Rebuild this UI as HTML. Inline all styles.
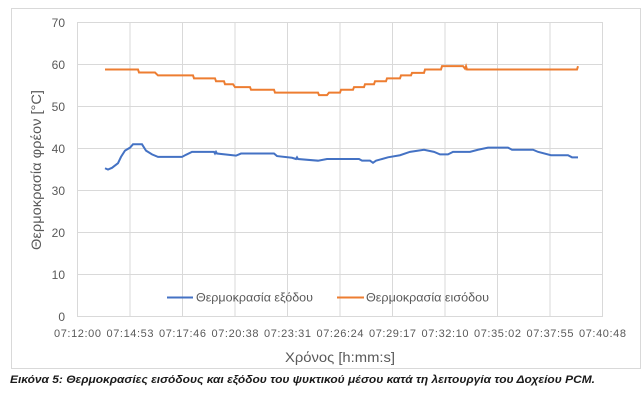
<!DOCTYPE html>
<html><head><meta charset="utf-8"><style>
html,body{margin:0;padding:0;background:#fff;}
body{width:644px;height:405px;overflow:hidden;position:relative;font-family:"Liberation Sans","DejaVu Sans",sans-serif;}
</style></head><body>
<svg width="644" height="405" xmlns="http://www.w3.org/2000/svg" style="position:absolute;left:0;top:0">
<rect x="11.5" y="8.5" width="629" height="360" fill="#fff" stroke="#d9d9d9"/>
<g stroke="#d9d9d9" stroke-width="1">
<line x1="77" y1="22.5" x2="603" y2="22.5"/>
<line x1="77" y1="64.5" x2="603" y2="64.5"/>
<line x1="77" y1="106.5" x2="603" y2="106.5"/>
<line x1="77" y1="148.5" x2="603" y2="148.5"/>
<line x1="77" y1="190.5" x2="603" y2="190.5"/>
<line x1="77" y1="232.5" x2="603" y2="232.5"/>
<line x1="77" y1="274.5" x2="603" y2="274.5"/>
<line x1="77" y1="316.5" x2="603" y2="316.5"/>
<line x1="77.5" y1="22.5" x2="77.5" y2="316.5"/>
<line x1="130" y1="22.5" x2="130" y2="316.5"/>
<line x1="182.5" y1="22.5" x2="182.5" y2="316.5"/>
<line x1="235" y1="22.5" x2="235" y2="316.5"/>
<line x1="287.5" y1="22.5" x2="287.5" y2="316.5"/>
<line x1="340" y1="22.5" x2="340" y2="316.5"/>
<line x1="392.5" y1="22.5" x2="392.5" y2="316.5"/>
<line x1="445" y1="22.5" x2="445" y2="316.5"/>
<line x1="497.5" y1="22.5" x2="497.5" y2="316.5"/>
<line x1="550" y1="22.5" x2="550" y2="316.5"/>
<line x1="602.5" y1="22.5" x2="602.5" y2="316.5"/>
</g>
<g font-size="12" fill="#595959" text-anchor="end">
<text x="65" y="27">70</text><text x="65" y="69">60</text><text x="65" y="111">50</text><text x="65" y="153">40</text><text x="65" y="195">30</text><text x="65" y="237">20</text><text x="65" y="279">10</text><text x="65" y="321">0</text>
</g>
<g font-size="11" fill="#595959" text-anchor="middle" lengthAdjust="spacingAndGlyphs">
<text x="77.5" y="337" textLength="47">07:12:00</text><text x="130" y="337" textLength="47">07:14:53</text><text x="182.5" y="337" textLength="47">07:17:46</text><text x="235" y="337" textLength="47">07:20:38</text><text x="287.5" y="337" textLength="47">07:23:31</text><text x="340" y="337" textLength="47">07:26:24</text><text x="392.5" y="337" textLength="47">07:29:17</text><text x="445" y="337" textLength="47">07:32:10</text><text x="497.5" y="337" textLength="47">07:35:02</text><text x="550" y="337" textLength="47">07:37:55</text><text x="602.5" y="337" textLength="47">07:40:48</text>
</g>
<text x="340" y="362" font-size="14" fill="#595959" text-anchor="middle" textLength="110" lengthAdjust="spacingAndGlyphs">Χρόνος [h:mm:s]</text>
<text transform="translate(41,170) rotate(-90)" font-size="14" fill="#595959" text-anchor="middle" textLength="160" lengthAdjust="spacingAndGlyphs">Θερμοκρασία φρέον [°C]</text>
<g transform="translate(0,316.5) scale(1,-4.2)" fill="none">
<polyline vector-effect="non-scaling-stroke" stroke="#ed7d31" stroke-width="2" points="105,58.8 138,58.8 139,58.1 155,58.1 158,57.4 193,57.4 194,56.7 215,56.7 216,56 224,56 225,55.3 233,55.3 235,54.6 250,54.6 251,54 274,54 275,53.3 318,53.3 319,52.7 327,52.7 329,53.3 340,53.3 341,54 353,54 354,54.6 364,54.6 365,55.3 374,55.3 375,56 386,56 387,56.7 400,56.7 401,57.4 411,57.4 412,58 424,58 425,58.8 441,58.8 442,59.6 463,59.6 465,59 466,59.6 467,58.8 577,58.8 578,59.6"/>
<polyline vector-effect="non-scaling-stroke" stroke="#4472c4" stroke-width="2" points="105,35.3 108,35 112,35.4 118,36.5 121,38 125,39.5 130,40.2 133,41 142,41 146,39.5 152,38.6 158,38 182,38 186,38.5 192,39.2 214,39.2 215,38.8 216,39.2 217,38.8 236,38.3 241,38.8 274,38.8 277,38.2 292,37.8 296,37.5 297,37.9 298,37.5 318,37.1 327,37.5 359,37.5 362,37.1 370,37.1 373,36.6 376,37.1 388,37.9 400,38.4 410,39.2 424,39.7 434,39.2 440,38.6 448,38.6 453,39.2 470,39.2 478,39.7 488,40.2 508,40.2 512,39.7 533,39.7 538,39.2 551,38.4 568,38.4 572,37.9 578,37.9"/>
</g>
<line x1="167" y1="297.5" x2="193" y2="297.5" stroke="#4472c4" stroke-width="2"/>
<text x="196" y="301.5" font-size="11.5" fill="#595959" textLength="117" lengthAdjust="spacingAndGlyphs">Θερμοκρασία εξόδου</text>
<line x1="337" y1="297.5" x2="364" y2="297.5" stroke="#ed7d31" stroke-width="2"/>
<text x="366" y="301.5" font-size="11.5" fill="#595959" textLength="123" lengthAdjust="spacingAndGlyphs">Θερμοκρασία εισόδου</text>
<text x="10" y="383" font-size="11" font-weight="bold" font-style="italic" fill="#1a1a1a" textLength="585" lengthAdjust="spacingAndGlyphs">Εικόνα 5: Θερμοκρασίες εισόδους και εξόδου του ψυκτικού μέσου κατά τη λειτουργία του Δοχείου PCM.</text>
</svg>
</body></html>
